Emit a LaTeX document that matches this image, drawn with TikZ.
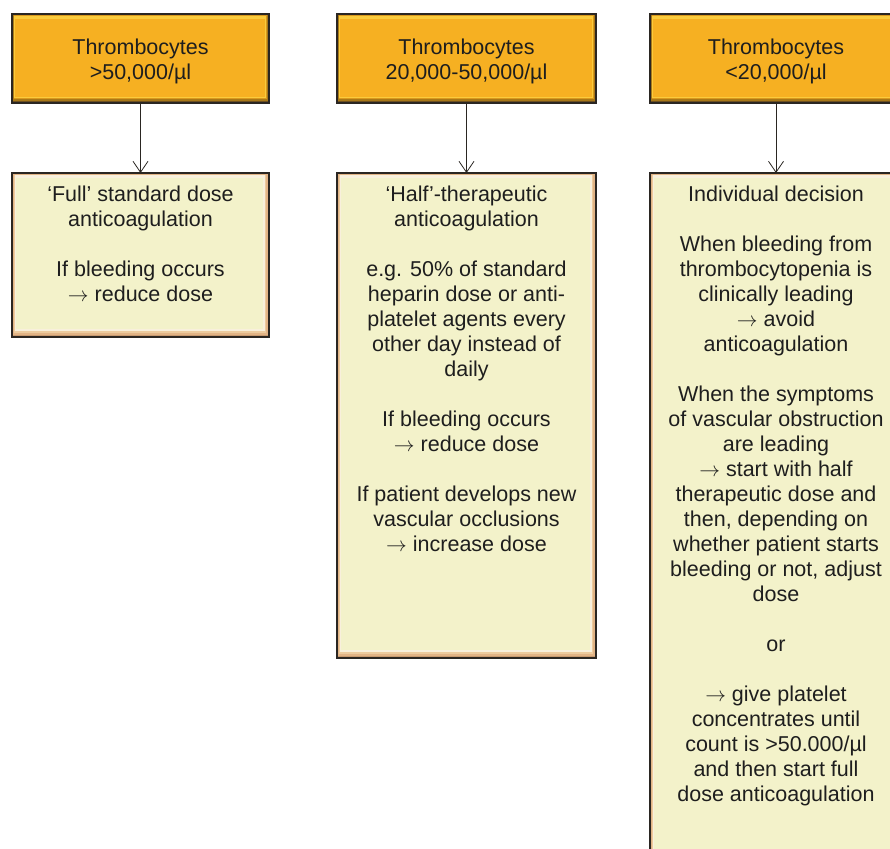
\documentclass[tikz,border=0pt]{standalone}
\usepackage{fontspec}
\setmainfont{Liberation Sans}
\usetikzlibrary{arrows.meta}
\definecolor{oEdge}{HTML}{6E5020}
\definecolor{oA}{HTML}{A87818}
\definecolor{oB}{HTML}{D8981C}
\definecolor{oHi}{HTML}{FACB3C}
\definecolor{oFill}{HTML}{F6B022}
\definecolor{cEdge}{HTML}{C89A70}
\definecolor{cA}{HTML}{E2B486}
\definecolor{cB}{HTML}{EDCB9E}
\definecolor{cHi}{HTML}{F8F0DC}
\definecolor{cFill}{HTML}{F3F2CA}
\definecolor{bord}{HTML}{2A2622}
\definecolor{txt}{HTML}{1E1E1E}
\newcommand\ar{$\rightarrow$}
\newcommand\obevel[4]{%
  \fill[oEdge] (#1,#2) rectangle (#3,#4);
  \fill[oA] (#1+1,#2+1) rectangle (#3-1,#4-2);
  \fill[oB] (#1+2,#2+1) rectangle (#3-2,#4-4);
  \fill[oHi] (#1+2,#2+2) rectangle (#3-3,#4-5);
  \fill[oFill] (#1+3,#2+5) rectangle (#3-4,#4-6);
}
\newcommand\cbevel[4]{%
  \fill[cEdge] (#1,#2) rectangle (#3,#4);
  \fill[cA] (#1+1,#2+1) rectangle (#3-1,#4-2);
  \fill[cB] (#1+2,#2+2) rectangle (#3-3,#4-4);
  \fill[cHi] (#1+3,#2+2) rectangle (#3-4,#4-6);
  \fill[cFill] (#1+4,#2+5) rectangle (#3-6,#4-8);
}
\tikzset{
  x=1pt, y=-1pt,
  boxframe/.style={draw=bord, line width=1.8pt, inner sep=0pt, outer sep=0pt},
  headtext/.style={inner sep=0pt, text=txt, align=center,
    font=\fontsize{21.5}{25}\selectfont},
  bodytext/.style={inner sep=0pt, anchor=north, text=txt, align=center,
    font=\fontsize{21.5}{25}\selectfont},
  conn/.style={draw=bord, line width=0.8pt, -{Straight Barb[length=11pt,width=15pt]}},
}
\begin{document}
\begin{tikzpicture}
\clip (0,0) rectangle (890,848);
\fill[white] (0,0) rectangle (890,848);
% backgrounds
\obevel{12}{14}{269}{103}
\obevel{337}{14}{596}{103}
\obevel{650}{14}{902}{103}
\cbevel{12}{173}{269}{337}
\cbevel{337}{173}{596}{658}
\cbevel{650}{173}{902}{880}
% top boxes
\node[boxframe, minimum width=257pt, minimum height=89pt] (a1) at (140.5,58.5) {};
\node[boxframe, minimum width=259pt, minimum height=89pt] (a2) at (466.5,58.5) {};
\node[boxframe, minimum width=252pt, minimum height=89pt] (a3) at (776,58.5) {};
\node[headtext] (h1) at ([yshift=-3pt]a1.center) {Thrombocytes\\>50,000/µl};
\node[headtext] (h2) at ([yshift=-3pt]a2.center) {Thrombocytes\\20,000-50,000/µl};
\node[headtext] (h3) at ([yshift=-3pt]a3.center) {Thrombocytes\\<20,000/µl};
% lower boxes
\node[boxframe, minimum width=257pt, minimum height=164pt] (b1) at (140.5,255) {};
\node[boxframe, minimum width=259pt, minimum height=485pt] (b2) at (466.5,415.5) {};
\node[boxframe, minimum width=252pt, minimum height=707pt] (b3) at (776,526.5) {};
% texts
\node[bodytext] (t1) at ([yshift=-13pt]b1.north) {‘Full’ standard dose\\anticoagulation\\[25pt]If bleeding occurs\\\ar{} reduce dose};
\node[bodytext] (t2) at ([yshift=-13pt]b2.north) {‘Half’-therapeutic\\anticoagulation\\[25pt]e.g. 50\% of standard\\heparin dose or anti-\\platelet agents every\\other day instead of\\daily\\[25pt]If bleeding occurs\\\ar{} reduce dose\\[25pt]If patient develops new\\vascular occlusions\\\ar{} increase dose};
\node[bodytext] (t3) at ([yshift=-13pt]b3.north) {Individual decision\\[25pt]When bleeding from\\thrombocytopenia is\\clinically leading\\\ar{} avoid\\anticoagulation\\[25pt]When the symptoms\\of vascular obstruction\\are leading\\\ar{} start with half\\therapeutic dose and\\then, depending on\\whether patient starts\\bleeding or not, adjust\\dose\\[25pt]or\\[25pt]\ar{} give platelet\\concentrates until\\count is >50.000/µl\\and then start full\\dose anticoagulation};
% connectors
\draw[conn] (a1.south) -- (b1.north);
\draw[conn] (a2.south) -- (b2.north);
\draw[conn] (a3.south) -- (b3.north);
\end{tikzpicture}
\end{document}
